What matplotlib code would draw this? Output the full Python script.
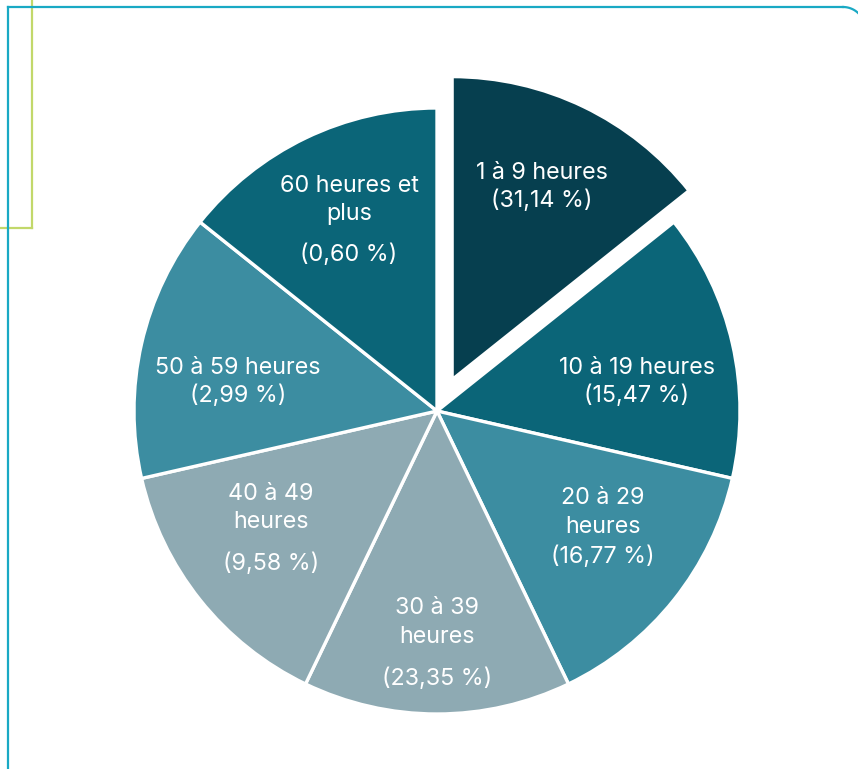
import matplotlib
matplotlib.use("Agg")
import matplotlib.pyplot as plt
from matplotlib.lines import Line2D
import numpy as np

# ---- data ----
categories = ["1 à 9 heures", "10 à 19 heures", "20 à 29 heures", "30 à 39 heures",
              "40 à 49 heures", "50 à 59 heures", "60 heures et plus"]
percentages = ["31,14", "15,47", "16,77", "23,35", "9,58", "2,99", "0,60"]
slice_sizes = [1, 1, 1, 1, 1, 1, 1]  # slices drawn with equal size in the original

# ---- style / layout ----
colors = ["#063f4f", "#0b6578", "#3c8da1", "#8eaab3", "#8eaab3", "#3c8da1", "#0b6578"]
explode = [0.115, 0, 0, 0, 0, 0, 0]
label_lines = [
    ["1 à 9 heures", "(31,14 %)"],
    ["10 à 19 heures", "(15,47 %)"],
    ["20 à 29", "heures", "(16,77 %)"],
    ["30 à 39", "heures", "(23,35 %)"],
    ["40 à 49", "heures", "(9,58 %)"],
    ["50 à 59 heures", "(2,99 %)"],
    ["60 heures et", "plus", "(0,60 %)"],
]
label_px = [
    (542, [172, 200]),
    (637, [367, 395]),
    (603, [497, 526, 556]),
    (437, [607, 636, 678]),
    (271, [493, 521, 563]),
    (238, [367, 395]),
    (349, [185, 213, 254]),
]

W, H = 858, 769
CX, CY, R = 437, 411, 303

fig = plt.figure(figsize=(W / 100, H / 100), dpi=100)
fig.patch.set_facecolor("white")
ax = fig.add_axes([0, 0, 1, 1])

ax.pie(slice_sizes, colors=colors, explode=explode, startangle=90, counterclock=False,
       radius=1.0, wedgeprops=dict(edgecolor="white", linewidth=2.4))

ax.set_xlim(-CX / R, (W - CX) / R)
ax.set_ylim((CY - H) / R, CY / R)
ax.set_aspect("equal")
ax.axis("off")

def to_data(px, py):
    return (px - CX) / R, (CY - py) / R

for lines, (px, ys) in zip(label_lines, label_px):
    for txt, py in zip(lines, ys):
        x, y = to_data(px, py + 1)
        ax.text(x, y, txt, ha="center", va="center", color="white",
                fontsize=16.8, family=["Inter", "DejaVu Sans"])

# ---- decorative frame lines (figure pixel coords) ----
def fx(px):
    return np.asarray(px) / W

def fy(py):
    return 1 - np.asarray(py) / H

teal = "#19a9c4"
green = "#c2d86a"
fig.add_artist(Line2D(fx([31.5, 31.5]), fy([0, 228]), color=green, lw=1.6,
                      transform=fig.transFigure))
fig.add_artist(Line2D(fx([0, 31.5]), fy([228, 228]), color=green, lw=1.6,
                      transform=fig.transFigure))
fig.add_artist(Line2D(fx([8.3, 8.3]), fy([7, 769]), color=teal, lw=1.6,
                      transform=fig.transFigure))
fig.add_artist(Line2D(fx([8.3, 843]), fy([7, 7]), color=teal, lw=1.6,
                      transform=fig.transFigure))
theta = np.linspace(np.pi / 2, 0, 40)
arc_x = 843 + 22 * np.cos(theta)
arc_y = 29 - 22 * np.sin(theta)
fig.add_artist(Line2D(fx(arc_x), fy(arc_y), color=teal, lw=1.6, transform=fig.transFigure))

fig.savefig("out.png", dpi=100, facecolor="white")
